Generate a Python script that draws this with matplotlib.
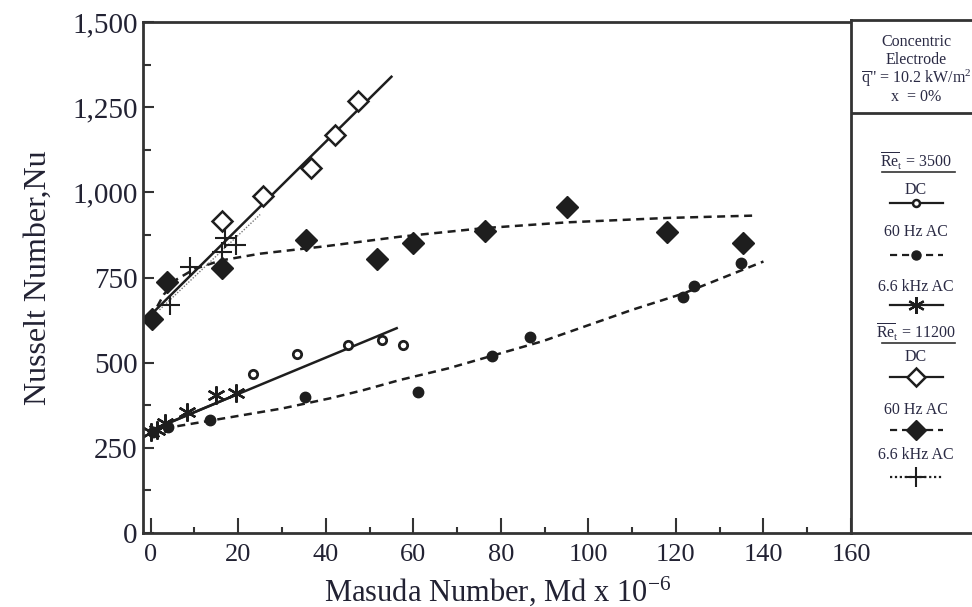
import matplotlib
matplotlib.use("Agg")
import matplotlib.pyplot as plt
from matplotlib.lines import Line2D

plt.rcParams['font.family'] = ['Liberation Serif', 'DejaVu Serif']
plt.rcParams['mathtext.fontset'] = 'custom'
plt.rcParams['mathtext.rm'] = 'Liberation Serif'
plt.rcParams['mathtext.it'] = 'Liberation Serif:italic'

INK = '#1e1e1e'

# Re = 3500 series
dc_3500_x = [23.4, 33.4, 45.1, 52.9, 57.7]
dc_3500_y = [467, 525, 552, 566, 552]
dc_3500_fit_x = [0, 56.2]
dc_3500_fit_y = [301, 601]

ac60_3500_x = [0.5, 4.0, 13.6, 35.3, 61.1, 77.9, 86.7, 121.7, 124.2, 134.8]
ac60_3500_y = [296, 312, 331, 400, 414, 519, 574, 694, 726, 792]
ac60_3500_fit_x = [0, 13, 30, 41, 48.6, 57, 68, 78, 89.6, 110, 121.7, 140]
ac60_3500_fit_y = [300, 328, 365, 395, 419, 449, 483, 520, 563, 655, 703, 797]

khz_3500_x = [0.0, 1.5, 3.3, 8.2, 14.9, 19.6]
khz_3500_y = [295, 302, 322, 356, 405, 410]
khz_3500_fit_x = [0, 20]
khz_3500_fit_y = [300, 408]

# Re = 11200 series
dc_11200_x = [16.4, 25.7, 36.6, 42.1, 47.3]
dc_11200_y = [917, 990, 1071, 1169, 1269]
dc_11200_fit_x = [0, 55]
dc_11200_fit_y = [640, 1340]

ac60_11200_x = [0.2, 3.7, 16.4, 35.5, 51.6, 59.9, 76.4, 95.0, 117.9, 135.3]
ac60_11200_y = [628, 738, 777, 860, 803, 850, 887, 956, 883, 851]
ac60_11200_fit_x = [0, 3, 6, 10, 16, 25, 40, 57, 76, 95, 118, 138]
ac60_11200_fit_y = [630, 700, 745, 775, 800, 820, 842, 870, 895, 912, 925, 932]

khz_11200_x = [4.4, 9.0, 16.2, 17.0, 19.6]
khz_11200_y = [669, 782, 826, 865, 846]
khz_11200_fit_x = [2, 25]
khz_11200_fit_y = [655, 935]

x_ticks = [0, 20, 40, 60, 80, 100, 120, 140, 160]
y_ticks = [0, 250, 500, 750, 1000, 1250, 1500]
y_tick_labels = ['0', '250', '500', '750', '1,000', '1,250', '1,500']

W, H = 972, 607
fig = plt.figure(figsize=(W / 100, H / 100), dpi=100)

left, right, top, bottom = 143.3, 851.0, 22.3, 532.7
ax = fig.add_axes([left / W, 1 - bottom / H, (right - left) / W, (bottom - top) / H])
ax.set_xlim(-(150.7 - left) / ((right - 150.7) / 160), 160)
ax.set_ylim(0, 1500)

dash = (0, (3.2, 2.2))

# fitted lines
ax.plot(dc_3500_fit_x, dc_3500_fit_y, color=INK, lw=1.8)
ax.plot(ac60_3500_fit_x, ac60_3500_fit_y, color=INK, lw=1.8, linestyle=dash)
ax.plot(khz_3500_fit_x, khz_3500_fit_y, color=INK, lw=1.8)
ax.plot(dc_11200_fit_x, dc_11200_fit_y, color=INK, lw=1.8)
ax.plot(ac60_11200_fit_x, ac60_11200_fit_y, color=INK, lw=1.8, linestyle=dash)
ax.plot(khz_11200_fit_x, khz_11200_fit_y, color='#777777', lw=1.0, linestyle=(0, (1, 1.2)))

# measured points
ax.plot(dc_3500_x, dc_3500_y, 'o', ms=6, mfc='white', mec=INK, mew=2, ls='none')
ax.plot(ac60_3500_x, ac60_3500_y, 'o', ms=7.5, color=INK, ls='none')
ax.plot(khz_3500_x, khz_3500_y, marker=(6, 2, 0), ms=13, mec=INK, mew=1.7, ls='none')
ax.plot(dc_11200_x, dc_11200_y, 'D', ms=10.5, mfc='white', mec=INK, mew=1.8, ls='none')
ax.plot(ac60_11200_x, ac60_11200_y, 'D', ms=11, color=INK, ls='none')
ax.plot(khz_11200_x, khz_11200_y, '+', ms=15, mec=INK, mew=1.5, ls='none')

for side in ['left', 'bottom', 'top']:
    ax.spines[side].set_linewidth(2)
    ax.spines[side].set_color('#333333')
ax.spines['right'].set_visible(False)

ax.set_xticks(x_ticks)
ax.set_xticks(range(10, 160, 20), minor=True)
ax.set_yticks(y_ticks)
ax.set_yticklabels(y_tick_labels)
ax.set_yticks(range(125, 1500, 250), minor=True)
ax.tick_params(axis='x', which='major', direction='in', length=11, width=1.5,
               labelsize=19, pad=8, colors='#333333', labelcolor='#222233')
ax.tick_params(axis='x', which='minor', direction='in', length=4, width=1.5, colors='#333333')
ax.tick_params(axis='y', which='major', direction='in', length=8, width=1.5,
               labelsize=21, pad=4, colors='#333333', labelcolor='#222233')
ax.tick_params(axis='y', which='minor', direction='in', length=6, width=1.5, colors='#333333')

ax.set_xlabel('Masuda Number, Md x 10$^{-6}$', fontsize=22, color='#222233', labelpad=6)
ax.set_ylabel('Nusselt Number,Nu', fontsize=23, color='#222233', labelpad=14)

# side panel with the test conditions and the symbol key
box_l, box_t, box_r, box_b = 851.0, 19.7, 990.0, 532.7
lg = fig.add_axes([box_l / W, 1 - box_b / H, (box_r - box_l) / W, (box_b - box_t) / H])
lg.set_xlim(box_l, box_r)
lg.set_ylim(box_b, box_t)
lg.set_xticks([])
lg.set_yticks([])
for s in lg.spines.values():
    s.set_linewidth(2)
    s.set_color('#333333')

cx = 916
txt = dict(ha='center', va='center', fontsize=11.5, color='#2a2a44')
lg.text(cx, 42, 'Concentric', **txt)
lg.text(cx, 60, 'Electrode', **txt)
lg.text(cx, 78, r'$\overline{\mathrm{q}}$" = 10.2 kW/m$^2$', **txt)
lg.text(cx, 97, 'x  = 0%', **txt)
lg.plot([box_l, box_r], [113, 113], color='#333333', lw=2)

entries = [
    (r'$\overline{\mathrm{Re}}_\mathrm{t}$ = 3500', 161, None),
    ('DC', 190, dict(y=203, ls='-', marker='o', ms=5, mfc='white', mew=1.8)),
    ('60 Hz AC', 232, dict(y=255, ls=dash, marker='o', ms=6.5, mfc=INK, mew=1)),
    ('6.6 kHz AC', 287, dict(y=305, ls='-', marker=(6, 2, 0), ms=12, mfc=INK, mew=1.6)),
    (r'$\overline{\mathrm{Re}}_\mathrm{t}$ = 11200', 332, None),
    ('DC', 357, dict(y=377, ls='-', marker='D', ms=9, mfc='white', mew=1.8)),
    ('60 Hz AC', 410, dict(y=430, ls=dash, marker='D', ms=10, mfc=INK, mew=1)),
    ('6.6 kHz AC', 455, dict(y=477, ls=(0, (1, 1.2)), marker='+', ms=15, mfc=INK, mew=1.5)),
]
for label, ty, sym in entries:
    lg.text(cx, ty, label, **txt)
    if sym is None:
        lg.plot([882, 955], [ty + 11, ty + 11], color='#333333', lw=1.2)
        continue
    lg.add_line(Line2D([890, 943], [sym['y'], sym['y']], color=INK, lw=1.6,
                       linestyle=sym['ls']))
    lg.plot([cx], [sym['y']], marker=sym['marker'], ms=sym['ms'], mfc=sym['mfc'],
            mec=INK, mew=sym['mew'], ls='none')

fig.savefig('out.png', dpi=100)
